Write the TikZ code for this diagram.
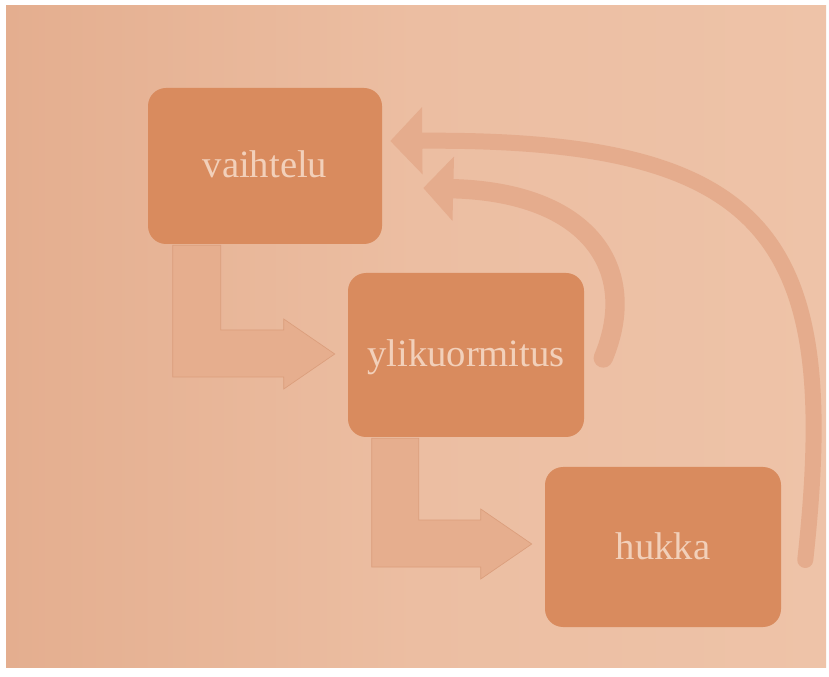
\documentclass[tikz,border=0pt]{standalone}
\usepackage{fontspec}
\setmainfont{Liberation Serif}
\usetikzlibrary{calc,arrows.meta}

\definecolor{paperA}{HTML}{E4AE8F}
\definecolor{paperB}{HTML}{ECBEA2}
\definecolor{paperC}{HTML}{EEC3A8}
\definecolor{boxfill}{HTML}{D98B5E}
\definecolor{boxtext}{HTML}{F2D0BA}
\definecolor{flowfill}{HTML}{E6AE8E}
\definecolor{flowline}{HTML}{DB9E7C}
\definecolor{loopline}{HTML}{E5AC8D}

\tikzset{
  stage/.style={rounded corners=13.5pt, fill=boxfill, inner sep=0pt,
    text=boxtext, font=\fontsize{29}{34}\selectfont,
    text height=18pt, text depth=0pt},
  flowarrow/.style={fill=flowfill, draw=flowline, line width=0.5pt, line join=miter},
  looparrow/.style={draw=loopline, line cap=round}
}

\begin{document}
\begin{tikzpicture}[x=0.75pt, y=-0.75pt]
  % page and paper
  \fill[white] (0,0) rectangle (829,677);
  \shade[left color=paperA, right color=paperC, middle color=paperB] (6,6) rectangle (826,667);
  \useasboundingbox (0,0) rectangle (829,677);

  % the three stages
  \node[stage, minimum width=175.5pt, minimum height=117pt] (v) at (265,166) {vaihtelu};
  \node[stage, minimum width=177pt, minimum height=123pt] (y) at (466,355) {ylikuormitus};
  \node[stage, minimum width=177pt, minimum height=120pt] (h) at (663,547) {hukka};

  % bent block arrows between the stages
  \filldraw[flowarrow] ($(v.south west)+(25,1)$) -- ($(v.south west)+(73,1)$)
     |- ($(y.west)+(-64,-25)$) -- ++(0,-11) -- ($(y.west)+(-13,-1)$)
     -- ++(-51,35) -- ++(0,-12) -| ($(v.south west)+(25,1)$) -- cycle;
  \filldraw[flowarrow] ($(y.south west)+(24,1)$) -- ($(y.south west)+(71,1)$)
     |- ($(h.west)+(-64,-27)$) -- ++(0,-11) -- ($(h.west)+(-13,-3)$)
     -- ++(-51,35) -- ++(0,-12) -| ($(y.south west)+(24,1)$) -- cycle;

  % feedback loops back to the first stage
  \coordinate (s1) at ($(y.east)+(19,3)$);
  \coordinate (e1) at ($(v.east)+(41,22)$);
  \coordinate (s2) at ($(h.east)+(24,13)$);
  \coordinate (e2) at ($(v.east)+(8,-25)$);
  \draw[looparrow, line width=14.5pt, -{Triangle[length=22.5pt, width=47pt]}]
     (s1) .. controls ($(s1)+(37,-88)$) and ($(e1)+(167,4)$) .. (e1);
  \draw[looparrow, line width=12pt, -{Triangle[length=24pt, width=49pt]}]
     (s2) .. controls ($(s2)+(35,-320)$) and ($(e2)+(385,-3)$) .. (e2);
\end{tikzpicture}
\end{document}
